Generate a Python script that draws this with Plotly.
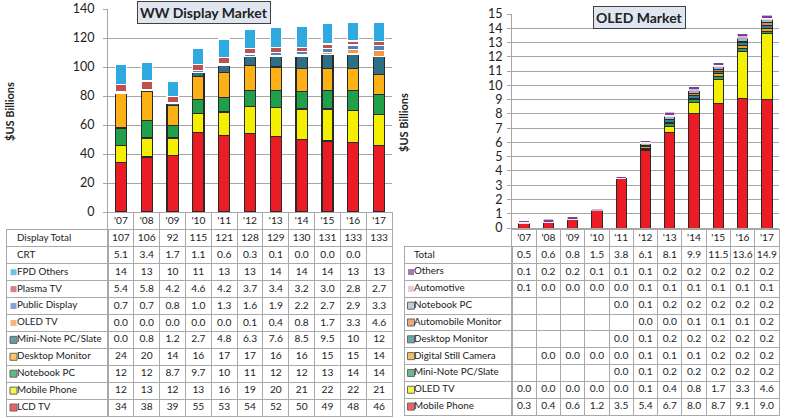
import plotly.graph_objects as go

W, H = 786, 418
FONT = "Lato"

years = ["'07", "'08", "'09", "'10", "'11", "'12", "'13", "'14", "'15", "'16", "'17"]

# ---------------- WW Display Market (US$ billions) ----------------
display_total = [107, 106, 92, 115, 121, 128, 129, 130, 131, 133, 133]
crt = [5.1, 3.4, 1.7, 1.1, 0.6, 0.3, 0.1, 0.0, 0.0, 0.0, None]
fpd_others = [14, 13, 10, 11, 13, 13, 14, 14, 14, 13, 13]
plasma_tv = [5.4, 5.8, 4.2, 4.6, 4.2, 3.7, 3.4, 3.2, 3.0, 2.8, 2.7]
public_display = [0.7, 0.7, 0.8, 1.0, 1.3, 1.6, 1.9, 2.2, 2.7, 2.9, 3.3]
oled_tv = [0.0, 0.0, 0.0, 0.0, 0.0, 0.1, 0.4, 0.8, 1.7, 3.3, 4.6]
mini_note = [0.0, 0.8, 1.2, 2.7, 4.8, 6.3, 7.6, 8.5, 9.5, 10, 12]
desktop_monitor = [24, 20, 14, 16, 17, 17, 16, 16, 15, 15, 14]
notebook_pc = [12, 12, 8.7, 9.7, 10, 11, 12, 12, 13, 14, 14]
mobile_phone = [12, 13, 12, 13, 16, 19, 20, 21, 22, 22, 21]
lcd_tv = [34, 38, 39, 55, 53, 54, 52, 50, 49, 48, 46]

# ---------------- OLED Market (US$ billions) ----------------
oled_total = [0.5, 0.6, 0.8, 1.5, 3.8, 6.1, 8.1, 9.9, 11.5, 13.6, 14.9]
o_others = [0.1, 0.2, 0.2, 0.1, 0.1, 0.1, 0.2, 0.2, 0.2, 0.2, 0.2]
o_automotive = [0.1, 0.0, 0.0, 0.0, 0.0, 0.1, 0.1, 0.1, 0.1, 0.1, 0.1]
o_notebook = [None, None, None, None, 0.0, 0.1, 0.2, 0.2, 0.2, 0.2, 0.2]
o_auto_monitor = [None, None, None, None, None, 0.0, 0.0, 0.1, 0.1, 0.1, 0.2]
o_desktop = [None, None, None, None, 0.0, 0.1, 0.2, 0.2, 0.2, 0.2, 0.2]
o_dsc = [None, 0.0, 0.0, 0.0, 0.0, 0.1, 0.1, 0.1, 0.2, 0.2, 0.2]
o_mini_note = [None, None, None, None, 0.0, 0.1, 0.2, 0.2, 0.2, 0.2, 0.2]
o_oled_tv = [0.0, 0.0, 0.0, 0.0, 0.0, 0.1, 0.4, 0.8, 1.7, 3.3, 4.6]
o_mobile = [0.3, 0.4, 0.6, 1.2, 3.5, 5.4, 6.7, 8.0, 8.7, 9.1, 9.0]

# series definitions: (label, values, colour, edge)   bottom -> top
left_series = [
    ("LCD TV", lcd_tv, "#ec1c24", "#2a2a2a"),
    ("Mobile Phone", mobile_phone, "#f4ef00", "#2a2a2a"),
    ("Notebook PC", notebook_pc, "#21a04c", "#2a2a2a"),
    ("Desktop Monitor", desktop_monitor, "#fbb116", "#2a2a2a"),
    ("Mini-Note PC/Slate", mini_note, "#2c6f86", "#2a2a2a"),
    ("OLED TV", oled_tv, "#f79646", "white"),
    ("Public Display", public_display, "#4f81bd", "white"),
    ("Plasma TV", plasma_tv, "#c0504d", "white"),
    ("FPD Others", fpd_others, "#2eaae1", "white"),
]
right_series = [
    ("Mobile Phone", o_mobile, "#ec1c24", "#2a2a2a"),
    ("OLED TV", o_oled_tv, "#f4ef00", "#2a2a2a"),
    ("Mini-Note PC/Slate", o_mini_note, "#2e9a5c", "#2a2a2a"),
    ("Digital Still Camera", o_dsc, "#e8a818", "#2a2a2a"),
    ("Desktop Monitor", o_desktop, "#2e8296", "#2a2a2a"),
    ("Automobile Monitor", o_auto_monitor, "#d88a4e", "#2a2a2a"),
    ("Notebook PC", o_notebook, "#a5b6c9", "#2a2a2a"),
    ("Automotive", o_automotive, "#d9b8c0", "white"),
    ("Others", o_others, "#7a3f9d", "white"),
]

left_rows = [("Display Total", display_total, None, None), ("CRT", crt, None, None)] + \
    list(reversed(left_series))
right_rows = [("Total", oled_total, None, None)] + list(reversed(right_series))

GRID = "#a9a9a9"
TXT = "#222222"
CLEAR = "rgba(0,0,0,0)"
HDR = "yr"
NUM_SIZE = 10.2
LAB_SIZE = 9.8


def fmt_left(v):
    if v is None:
        return ""
    return str(int(round(v))) if v >= 9.95 else f"{v:.1f}"


def fmt_right(v):
    return "" if v is None else f"{v:.1f}"


fig = go.Figure()

# ---- stacked bars ----
for name, vals, col, edge in left_series:
    fig.add_trace(go.Bar(x=years, y=vals, name=name,
                         marker=dict(color=col, line=dict(color=edge, width=1.2)),
                         xaxis="x", yaxis="y", hoverinfo="x+y+name"))
for name, vals, col, edge in right_series:
    fig.add_trace(go.Bar(x=years, y=vals, name=name,
                         marker=dict(color=col, line=dict(color=edge, width=1 if edge != "white" else 0.6)),
                         xaxis="x2", yaxis="y2", hoverinfo="x+y+name"))


# ---- data tables drawn on category grids ----
def add_table(rows, fmt, xa_num, ya_num, xa_lab, ya_lab, key_x, text_x):
    xs, ys, ts = [], [], []
    for yr in years:                       # header row with the years
        xs.append(yr); ys.append(HDR); ts.append(yr)
    for name, vals, _, _ in rows:
        for i, yr in enumerate(years):
            xs.append(yr); ys.append(name); ts.append(fmt(vals[i]))
    fig.add_trace(go.Scatter(x=xs, y=ys, text=ts, mode="text", textposition="middle center",
                             textfont=dict(family=FONT, size=NUM_SIZE, color=TXT),
                             xaxis=xa_num, yaxis=ya_num, hoverinfo="skip"))
    names = [r[0] for r in rows]
    fig.add_trace(go.Scatter(x=[text_x] * len(rows), y=names, text=names, mode="text",
                             textposition="middle right",
                             textfont=dict(family=FONT, size=LAB_SIZE, color=TXT),
                             xaxis=xa_lab, yaxis=ya_lab, hoverinfo="skip"))
    keyed = [r for r in rows if r[2]]
    fig.add_trace(go.Scatter(
        x=[key_x] * len(keyed), y=[r[0] for r in keyed], mode="markers",
        marker=dict(symbol="square", size=[7 if r[3] != "white" else 6 for r in keyed],
                    color=[r[2] for r in keyed],
                    line=dict(color=[r[3] if r[3] != "white" else CLEAR for r in keyed], width=1)),
        xaxis=xa_lab, yaxis=ya_lab, hoverinfo="skip"))


add_table(left_rows, fmt_left, "x3", "y3", "x4", "y4", key_x=6.5, text_x=10)
add_table(right_rows, fmt_right, "x5", "y5", "x6", "y6", key_x=6.0, text_x=9)

axis_common = dict(showgrid=True, gridcolor="#a6a6a6", gridwidth=1, showline=True, linecolor="#a6a6a6",
                   ticks="outside", ticklen=4, tickcolor="#a6a6a6", zeroline=False, automargin=False,
                   tickfont=dict(family=FONT, size=12.5, color=TXT))
xcommon = dict(type="category", showticklabels=False, showline=True, linecolor="#a6a6a6", ticks="",
               showgrid=False, automargin=False)
gridcat = dict(type="category", tickson="boundaries", showgrid=True, gridcolor=GRID, gridwidth=1,
               showline=True, mirror=True, linecolor=GRID, linewidth=1, ticks="", showticklabels=False,
               zeroline=False, fixedrange=True, automargin=False)
plain = dict(showgrid=False, zeroline=False, showticklabels=False, ticks="", showline=True, mirror=True,
             linecolor=GRID, linewidth=1, fixedrange=True, automargin=False)


def ydom(top_px, bottom_px):
    return [1 - bottom_px / H, 1 - top_px / H]


nl, nr = len(left_rows), len(right_rows)
# left table: header + rows from y=213 to 416 ; right table: y=230 to 415
L_TOP, L_BOT = 213, 416
R_TOP, R_BOT = 230, 415
l_row = (L_BOT - L_TOP) / (nl + 1)
r_row = (R_BOT - R_TOP) / (nr + 1)

fig.update_layout(
    width=W, height=H, margin=dict(l=0, r=0, t=0, b=0, pad=0, autoexpand=False),
    paper_bgcolor="white", plot_bgcolor="rgba(0,0,0,0)",
    barmode="stack", bargap=0.57, showlegend=False,
    font=dict(family=FONT, color=TXT),
    xaxis=dict(domain=[108 / W, 392 / W], anchor="y", **xcommon),
    yaxis=dict(domain=ydom(9, 212), range=[0, 140], dtick=20, anchor="x",
               ticklabelstandoff=6, **axis_common),
    xaxis2=dict(domain=[512 / W, 779 / W], anchor="y2", **xcommon),
    yaxis2=dict(domain=ydom(14, 228), range=[0, 15], dtick=1, anchor="x2",
                ticklabelstandoff=2, **axis_common),
    # left table
    xaxis3=dict(domain=[108 / W, 392 / W], anchor="y3", range=[-0.5, len(years) - 0.5],
                categoryorder="array", categoryarray=years, **gridcat),
    yaxis3=dict(domain=ydom(L_TOP, L_BOT), anchor="x3", range=[nl + 0.5, -0.5],
                categoryorder="array", categoryarray=[HDR] + [r[0] for r in left_rows], **gridcat),
    xaxis4=dict(domain=[7 / W, 108 / W], anchor="y4", range=[0, 101], **plain),
    yaxis4=dict(domain=ydom(L_TOP + l_row, L_BOT), anchor="x4", range=[nl - 0.5, -0.5],
                categoryorder="array", categoryarray=[r[0] for r in left_rows], **gridcat),
    # right table
    xaxis5=dict(domain=[512 / W, 779 / W], anchor="y5", range=[-0.5, len(years) - 0.5],
                categoryorder="array", categoryarray=years, **gridcat),
    yaxis5=dict(domain=ydom(R_TOP, R_BOT), anchor="x5", range=[nr + 0.5, -0.5],
                categoryorder="array", categoryarray=[HDR] + [r[0] for r in right_rows], **gridcat),
    xaxis6=dict(domain=[405 / W, 512 / W], anchor="y6", range=[0, 107], **plain),
    yaxis6=dict(domain=ydom(R_TOP + r_row, R_BOT), anchor="x6", range=[nr - 0.5, -0.5],
                categoryorder="array", categoryarray=[r[0] for r in right_rows], **gridcat),
    annotations=[
        dict(text="<b>WW Display Market</b>", x=204 / W, y=1 - 12 / H, xref="paper", yref="paper",
             xanchor="center", yanchor="middle",
             showarrow=False, font=dict(family=FONT, size=14, color=TXT), bgcolor="#dfe6f0",
             bordercolor="#404040", borderwidth=1, borderpad=2),
        dict(text="<b>OLED Market</b>", x=639 / W, y=1 - 17 / H, xref="paper", yref="paper",
             xanchor="center", yanchor="middle",
             showarrow=False, font=dict(family=FONT, size=14, color=TXT), bgcolor="#dfe6f0",
             bordercolor="#404040", borderwidth=1, borderpad=2),
        dict(text="<b>$US Billions</b>", x=9 / W, y=1 - 112 / H, xref="paper", yref="paper",
             xanchor="center", yanchor="middle",
             showarrow=False, textangle=-90, font=dict(family=FONT, size=11, color=TXT)),
        dict(text="<b>$US Billions</b>", x=403 / W, y=1 - 122 / H, xref="paper", yref="paper",
             xanchor="center", yanchor="middle",
             showarrow=False, textangle=-90, font=dict(family=FONT, size=11, color=TXT)),
    ],
)

fig.write_html("out.html", config={"displayModeBar": False},
               post_script="document.body.style.margin='0px';")
